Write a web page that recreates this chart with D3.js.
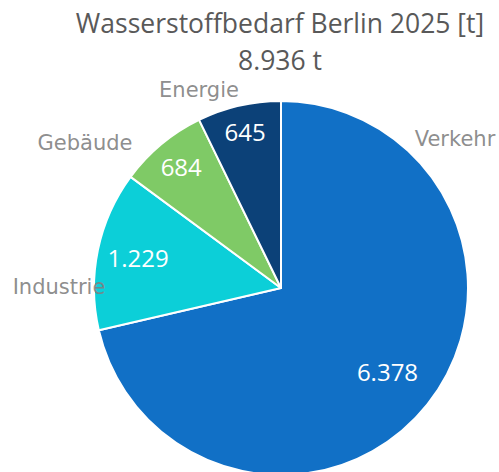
<!DOCTYPE html>
<html>
<head>
<meta charset="utf-8">
<script src="https://cdn.jsdelivr.net/npm/d3@7"></script>
<style>
  body { margin: 0; background: #fff; }
  svg { display: block; }
</style>
</head>
<body>
<svg id="chart" width="499" height="472"></svg>
<script>
// data
var categories = ["Verkehr", "Industrie", "Gebäude", "Energie"];
var values = [6378, 1229, 684, 645];
var colors = ["#1170c6", "#0ccfd8", "#7fca66", "#0c4178"];
var title = "Wasserstoffbedarf Berlin 2025 [t]";

// layout
var cx = 281, cy = 288, r = 187;
var valueR = [136, 146, 156, 160];           // radius for value labels
var catPos = [[174, -142], [-222, 6], [-196, -138], [-82, -191]]; // category label offsets

var fmt = function(v) { return d3.format(",")(v).replace(/,/g, "."); };
var total = d3.sum(values);

var svg = d3.select("#chart");

svg.append("text")
  .attr("x", 280).attr("y", 33)
  .attr("text-anchor", "middle")
  .attr("font-family", "'Open Sans', sans-serif")
  .attr("font-size", 26.5)
  .attr("fill", "#595959")
  .text(title);

svg.append("text")
  .attr("x", 280).attr("y", 70)
  .attr("text-anchor", "middle")
  .attr("font-family", "'Open Sans', sans-serif")
  .attr("font-size", 26.5)
  .attr("fill", "#595959")
  .text(fmt(total) + " t");

var pie = d3.pie().sort(null).value(function(d) { return d; });
var arcs = pie(values);
var arc = d3.arc().innerRadius(0).outerRadius(r);

var g = svg.append("g").attr("transform", "translate(" + cx + "," + cy + ")");

g.selectAll("path")
  .data(arcs)
  .join("path")
  .attr("d", arc)
  .attr("fill", function(d, i) { return colors[i]; })
  .attr("stroke", "#fff")
  .attr("stroke-width", 2)
  .attr("stroke-linejoin", "round");

g.selectAll("text.val")
  .data(arcs)
  .join("text")
  .attr("class", "val")
  .attr("transform", function(d, i) {
    var a = (d.startAngle + d.endAngle) / 2;
    return "translate(" + (Math.sin(a) * valueR[i]) + "," + (-Math.cos(a) * valueR[i]) + ")";
  })
  .attr("text-anchor", "middle")
  .attr("dy", "0.35em")
  .attr("font-family", "'Open Sans', sans-serif")
  .attr("font-size", 24)
  .attr("fill", "#fff")
  .text(function(d) { return fmt(d.data); });

g.selectAll("text.cat")
  .data(categories)
  .join("text")
  .attr("class", "cat")
  .attr("x", function(d, i) { return catPos[i][0]; })
  .attr("y", function(d, i) { return catPos[i][1]; })
  .attr("text-anchor", "middle")
  .attr("font-family", "'DejaVu Sans', sans-serif")
  .attr("font-size", 21)
  .attr("fill", "#808080")
  .attr("fill-opacity", 0.9)
  .text(function(d) { return d; });
</script>
</body>
</html>
